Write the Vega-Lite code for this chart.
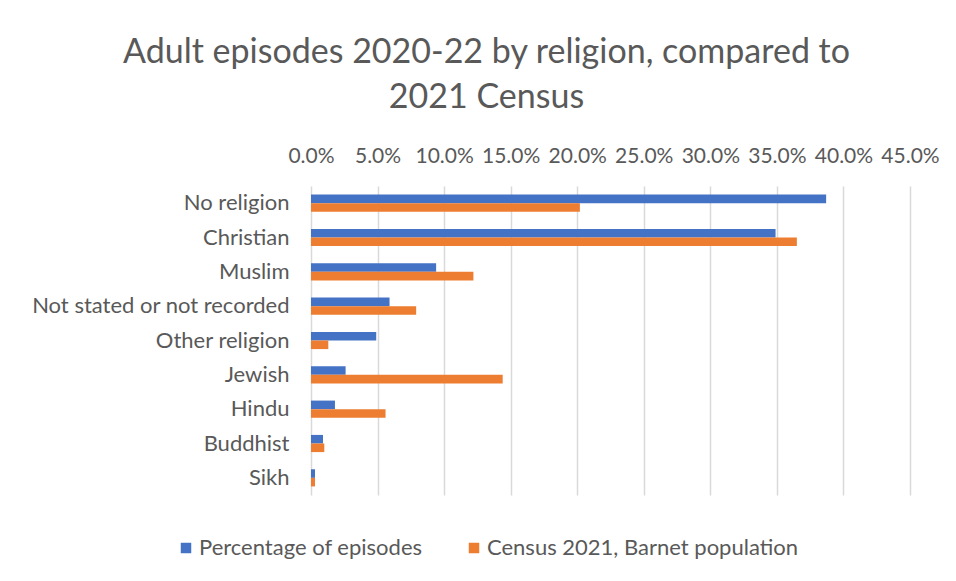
{
  "$schema": "https://vega.github.io/schema/vega-lite/v6.json",
  "autosize": {"type": "none"},
  "width": 599,
  "height": 309,
  "padding": {"left": 311, "top": 186, "right": 46, "bottom": 86},
  "background": "white",
  "title": {
    "text": ["Adult episodes 2020-22 by religion, compared to", "2021 Census"],
    "anchor": "middle",
    "dx": -124,
    "dy": -10,
    "font": "Lato",
    "fontSize": 34,
    "fontWeight": "normal",
    "color": "#595959",
    "lineHeight": 45,
    "offset": 20
  },
  "data": {
    "values": [
      {"religion": "No religion", "series": "Percentage of episodes", "value": 0.387},
      {"religion": "No religion", "series": "Census 2021, Barnet population", "value": 0.202},
      {"religion": "Christian", "series": "Percentage of episodes", "value": 0.349},
      {"religion": "Christian", "series": "Census 2021, Barnet population", "value": 0.365},
      {"religion": "Muslim", "series": "Percentage of episodes", "value": 0.094},
      {"religion": "Muslim", "series": "Census 2021, Barnet population", "value": 0.122},
      {"religion": "Not stated or not recorded", "series": "Percentage of episodes", "value": 0.059},
      {"religion": "Not stated or not recorded", "series": "Census 2021, Barnet population", "value": 0.079},
      {"religion": "Other religion", "series": "Percentage of episodes", "value": 0.049},
      {"religion": "Other religion", "series": "Census 2021, Barnet population", "value": 0.013},
      {"religion": "Jewish", "series": "Percentage of episodes", "value": 0.026},
      {"religion": "Jewish", "series": "Census 2021, Barnet population", "value": 0.144},
      {"religion": "Hindu", "series": "Percentage of episodes", "value": 0.018},
      {"religion": "Hindu", "series": "Census 2021, Barnet population", "value": 0.056},
      {"religion": "Buddhist", "series": "Percentage of episodes", "value": 0.009},
      {"religion": "Buddhist", "series": "Census 2021, Barnet population", "value": 0.010},
      {"religion": "Sikh", "series": "Percentage of episodes", "value": 0.003},
      {"religion": "Sikh", "series": "Census 2021, Barnet population", "value": 0.003}
    ]
  },
  "mark": {"type": "bar"},
  "encoding": {
    "y": {
      "field": "religion",
      "type": "nominal",
      "sort": null,
      "scale": {"paddingInner": 0.5, "paddingOuter": 0.25},
      "axis": {
        "title": null,
        "ticks": false,
        "domain": false,
        "labelPadding": 22,
        "labelFont": "Lato",
        "labelFontSize": 22,
        "labelColor": "#595959",
        "labelLimit": 400
      }
    },
    "yOffset": {
      "field": "series",
      "type": "nominal",
      "sort": ["Percentage of episodes", "Census 2021, Barnet population"]
    },
    "x": {
      "field": "value",
      "type": "quantitative",
      "scale": {"domain": [0, 0.45], "nice": false},
      "axis": {
        "orient": "top",
        "title": null,
        "format": ".1%",
        "values": [0, 0.05, 0.1, 0.15, 0.2, 0.25, 0.3, 0.35, 0.4, 0.45],
        "ticks": false,
        "tickSize": 0,
        "domain": false,
        "grid": true,
        "gridColor": "#d9d9d9",
        "gridWidth": 1.5,
        "labelPadding": 20,
        "labelFont": "Lato",
        "labelFontSize": 21,
        "labelColor": "#595959",
        "labelFlush": false
      }
    },
    "color": {
      "field": "series",
      "type": "nominal",
      "sort": ["Percentage of episodes", "Census 2021, Barnet population"],
      "scale": {"range": ["#4472C4", "#ED7D31"]},
      "legend": {
        "title": null,
        "orient": "none",
        "direction": "horizontal",
        "legendX": -136,
        "legendY": 351,
        "symbolType": "square",
        "symbolSize": 110,
        "symbolStrokeWidth": 0,
        "labelFont": "Lato",
        "labelFontSize": 22,
        "labelColor": "#595959",
        "labelOffset": 2,
        "columnPadding": 40,
        "labelLimit": 400
      }
    }
  },
  "config": {"view": {"stroke": null}}
}
